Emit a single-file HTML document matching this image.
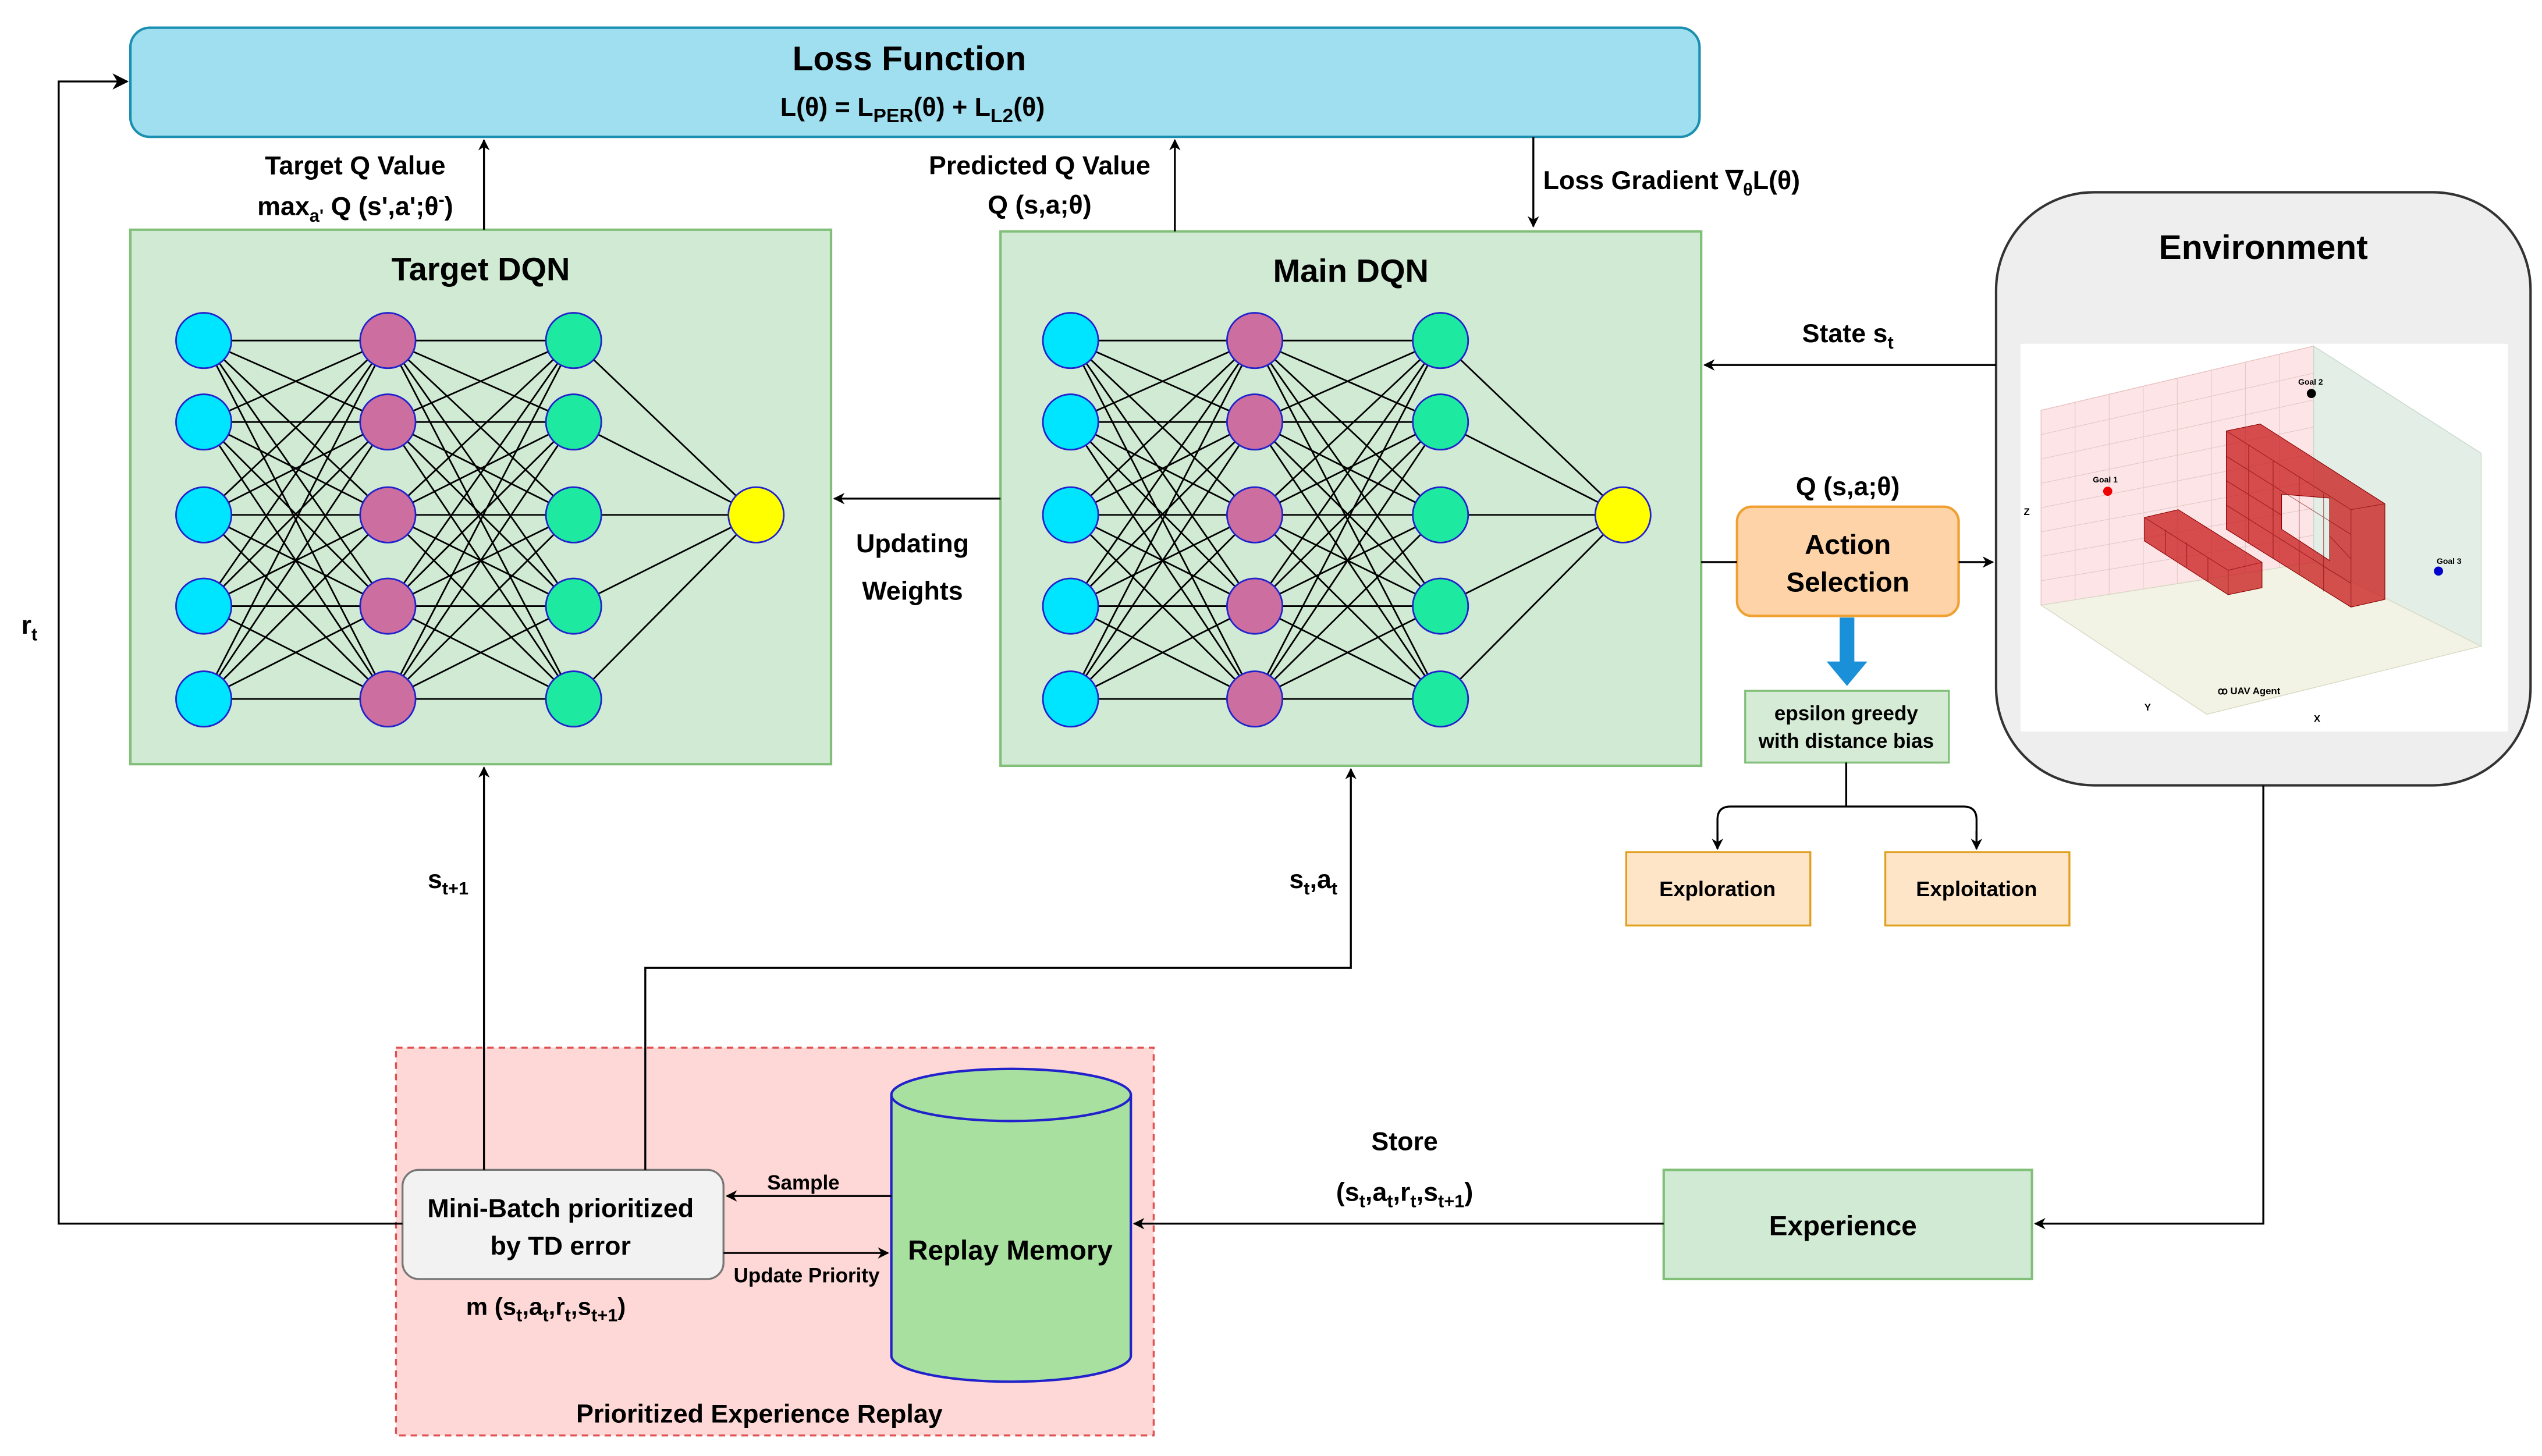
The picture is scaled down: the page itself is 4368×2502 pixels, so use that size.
<!DOCTYPE html>
<html><head><meta charset="utf-8"><style>
html,body{margin:0;padding:0;background:#fff}
svg{display:block}
text{font-family:"Liberation Sans",Arial,sans-serif;font-weight:bold;fill:#000}
</style></head><body>
<svg width="4368" height="2502" viewBox="0 0 1560 893.6" xmlns="http://www.w3.org/2000/svg">
<defs>
<marker id="a" viewBox="0 0 10 10" refX="9" refY="5" markerWidth="7" markerHeight="7" orient="auto-start-reverse" markerUnits="userSpaceOnUse"><path d="M0,0 L10,5 L0,10 L3,5 z" fill="#000"/></marker>
<marker id="b" viewBox="0 0 10 10" refX="9" refY="5" markerWidth="10" markerHeight="10" orient="auto" markerUnits="userSpaceOnUse"><path d="M0,0 L10,5 L0,10 L3,5 z" fill="#000"/></marker>
</defs>
<rect width="1560" height="894" fill="#fff"/>

<rect x="80" y="17" width="963" height="67" rx="12" fill="#a0dff0" stroke="#1a8fb0" stroke-width="1.5"/>
<text x="558" y="43" font-size="21" text-anchor="middle">Loss Function</text>
<text x="560" y="71" font-size="16" text-anchor="middle">L(θ) = L<tspan font-size="12" dy="4">PER</tspan><tspan dy="-4">(θ) + L</tspan><tspan font-size="12" dy="4">L2</tspan><tspan dy="-4">(θ)</tspan></text>

<rect x="80" y="141" width="430" height="328" fill="#d0ead4" stroke="#82c07a" stroke-width="1.5"/>
<text x="295" y="172" font-size="20" text-anchor="middle">Target DQN</text>
<rect x="614" y="142" width="430" height="328" fill="#d0ead4" stroke="#82c07a" stroke-width="1.5"/>
<text x="829" y="173" font-size="20" text-anchor="middle">Main DQN</text>

<g id="net" stroke="#000" stroke-width="1">
<path d="M125 209L238 209M125 209L238 259M125 209L238 316M125 209L238 372M125 209L238 429
M125 259L238 209M125 259L238 259M125 259L238 316M125 259L238 372M125 259L238 429
M125 316L238 209M125 316L238 259M125 316L238 316M125 316L238 372M125 316L238 429
M125 372L238 209M125 372L238 259M125 372L238 316M125 372L238 372M125 372L238 429
M125 429L238 209M125 429L238 259M125 429L238 316M125 429L238 372M125 429L238 429
M238 209L352 209M238 209L352 259M238 209L352 316M238 209L352 372M238 209L352 429
M238 259L352 209M238 259L352 259M238 259L352 316M238 259L352 372M238 259L352 429
M238 316L352 209M238 316L352 259M238 316L352 316M238 316L352 372M238 316L352 429
M238 372L352 209M238 372L352 259M238 372L352 316M238 372L352 372M238 372L352 429
M238 429L352 209M238 429L352 259M238 429L352 316M238 429L352 372M238 429L352 429
M352 209L464 316M352 259L464 316M352 316L464 316M352 372L464 316M352 429L464 316"/>
<g stroke="#2222cc" stroke-width="1">
<circle cx="125" cy="209" r="17" fill="#00e5ff"/><circle cx="125" cy="259" r="17" fill="#00e5ff"/><circle cx="125" cy="316" r="17" fill="#00e5ff"/><circle cx="125" cy="372" r="17" fill="#00e5ff"/><circle cx="125" cy="429" r="17" fill="#00e5ff"/>
<circle cx="238" cy="209" r="17" fill="#cc6fa0"/><circle cx="238" cy="259" r="17" fill="#cc6fa0"/><circle cx="238" cy="316" r="17" fill="#cc6fa0"/><circle cx="238" cy="372" r="17" fill="#cc6fa0"/><circle cx="238" cy="429" r="17" fill="#cc6fa0"/>
<circle cx="352" cy="209" r="17" fill="#1de9a0"/><circle cx="352" cy="259" r="17" fill="#1de9a0"/><circle cx="352" cy="316" r="17" fill="#1de9a0"/><circle cx="352" cy="372" r="17" fill="#1de9a0"/><circle cx="352" cy="429" r="17" fill="#1de9a0"/>
<circle cx="464" cy="316" r="17" fill="#ffff00"/>
</g>
</g>
<use href="#net" x="532" y="0"/>

<rect x="1225" y="118" width="328" height="364" rx="60" fill="#eeeeee" stroke="#333" stroke-width="1.5"/>
<text x="1389" y="159" font-size="21" text-anchor="middle">Environment</text>
<rect x="1240" y="211" width="299" height="238" fill="#fff"/>
<polygon points="1252.6,251.8 1419.9,212.4 1419.9,345.1 1252.6,371.4" fill="#fde4e6" stroke="#e8c0c0" stroke-width="0.5"/>
<polygon points="1419.9,212.4 1522.7,278.2 1522.7,396.6 1419.9,345.1" fill="#e2eee6" stroke="#c8d8cc" stroke-width="0.5"/>
<polygon points="1252.6,371.4 1419.9,345.1 1522.7,396.6 1354.3,438.4" fill="#f2f3e4" stroke="#d8d8c4" stroke-width="0.5"/>
<g stroke="#e5c8c8" stroke-width="0.4">
<path d="M1273.5,246.9V368.1M1294.4,242V364.8M1315.3,237V361.6M1336.2,232.1V358.3M1357.1,227.2V355M1378,222.3V351.7M1399,217.3V348.4"/>
<path d="M1252.6,356.4L1419.9,328.5M1252.6,341.4L1419.9,311.9M1252.6,326.4L1419.9,295.3M1252.6,311.6L1419.9,278.7M1252.6,296.6L1419.9,262.1M1252.6,281.7L1419.9,245.5M1252.6,266.7L1419.9,229"/>
</g>
<g fill="#c81818" fill-opacity="0.75" stroke="#8a0000" stroke-width="0.4">
<polygon points="1316,317.6 1336.8,312.8 1388.2,345.1 1388.2,360.7 1367.4,365 1316,332"/>
<path fill-rule="evenodd" d="M1366.3,264.5 L1387.1,260.2 L1463.6,309.2 L1463.6,367.9 L1442.8,372.6 L1366.3,324.8 Z M1400.2,303.3 L1429.7,305.7 L1429.7,344 L1400.2,324.8 Z"/>
</g>
<g stroke="#7a0000" stroke-width="0.4" fill="none" opacity="0.6">
<path d="M1316,317.6 L1367.4,350 L1388.2,345.1 M1367.4,350 V365 M1329,325 V340 M1342,333 V348 M1355,342 V357"/>
<path d="M1366.3,264.5 L1442.8,312.8 L1463.6,309.2 M1442.8,312.8 V372.6 M1380,273 V333 M1395,283 V343 M1411,293 V353 M1426,303 V363 M1366.3,280 L1442.8,328 M1366.3,295 L1400,316 M1429.7,329 L1442.8,343 M1366.3,310 L1442.8,358"/>
</g>
<circle cx="1293.5" cy="301.5" r="2.8" fill="#e00"/><text x="1292" y="296" font-size="5" text-anchor="middle">Goal 1</text>
<circle cx="1418.5" cy="241.5" r="2.8" fill="#000"/><text x="1418" y="236" font-size="5" text-anchor="middle">Goal 2</text>
<circle cx="1496.5" cy="350.5" r="2.8" fill="#00c"/><text x="1503" y="346" font-size="5" text-anchor="middle">Goal 3</text>
<text x="1361" y="426" font-size="6">ꝏ UAV Agent</text>
<text x="1316" y="436" font-size="6">Y</text><text x="1420" y="443" font-size="6">X</text><text x="1242" y="316" font-size="6">Z</text>

<text x="1134" y="304" font-size="16" text-anchor="middle">Q (s,a;θ)</text>
<rect x="1066" y="311" width="136" height="67" rx="9" fill="#fdd3a7" stroke="#f0a030" stroke-width="1.5"/>
<text x="1134" y="340" font-size="17" text-anchor="middle">Action</text>
<text x="1134" y="363" font-size="17" text-anchor="middle">Selection</text>
<rect x="1129" y="379" width="9" height="29" fill="#1a90d8"/>
<polygon points="1121,406 1146,406 1133.5,421" fill="#1a90d8"/>
<rect x="1071" y="424" width="125" height="44" fill="#d5ebd5" stroke="#82c07a" stroke-width="1.2"/>
<text x="1133" y="442" font-size="12.5" text-anchor="middle">epsilon greedy</text>
<text x="1133" y="459" font-size="12.5" text-anchor="middle">with distance bias</text>
<rect x="998" y="523" width="113" height="45" fill="#ffe5c8" stroke="#e0a020" stroke-width="1.2"/>
<text x="1054" y="550" font-size="13" text-anchor="middle">Exploration</text>
<rect x="1157" y="523" width="113" height="45" fill="#ffe5c8" stroke="#e0a020" stroke-width="1.2"/>
<text x="1213" y="550" font-size="13" text-anchor="middle">Exploitation</text>

<rect x="243" y="643" width="465" height="238" fill="#fdd8d6" stroke="#e05050" stroke-width="1.2" stroke-dasharray="4,3"/>
<text x="466" y="873" font-size="16" text-anchor="middle">Prioritized Experience Replay</text>
<rect x="247" y="718" width="197" height="67" rx="10" fill="#f2f2f2" stroke="#777" stroke-width="1.2"/>
<text x="344" y="747" font-size="16" text-anchor="middle">Mini-Batch prioritized</text>
<text x="344" y="770" font-size="16" text-anchor="middle">by TD error</text>
<text x="335" y="807" font-size="15" text-anchor="middle">m (s<tspan font-size="11" dy="4">t</tspan><tspan dy="-4">,a</tspan><tspan font-size="11" dy="4">t</tspan><tspan dy="-4">,r</tspan><tspan font-size="11" dy="4">t</tspan><tspan dy="-4">,s</tspan><tspan font-size="11" dy="4">t+1</tspan><tspan dy="-4">)</tspan></text>
<path d="M547,672 V832 A73.5,16 0 0 0 694,832 V672" fill="#a8e0a0" stroke="#2222cc" stroke-width="1.5"/>
<ellipse cx="620.5" cy="672" rx="73.5" ry="16" fill="#a8e0a0" stroke="#2222cc" stroke-width="1.5"/>
<text x="620" y="773" font-size="17" text-anchor="middle">Replay Memory</text>

<rect x="1021" y="718" width="226" height="67" fill="#d0ead4" stroke="#82c07a" stroke-width="1.5"/>
<text x="1131" y="758" font-size="17" text-anchor="middle">Experience</text>

<g stroke="#000" stroke-width="1.2" fill="none">
<path d="M247,751 H36 V50 H78" marker-end="url(#b)"/>
<path d="M297,718 V471" marker-end="url(#a)"/>
<path d="M396,718 V594 H829 V472" marker-end="url(#a)"/>
<path d="M297,141 V86" marker-end="url(#a)"/>
<path d="M721,142 V86" marker-end="url(#a)"/>
<path d="M941,84 V139" marker-end="url(#a)"/>
<path d="M1225,224 H1046" marker-end="url(#a)"/>
<path d="M614,306 H512" marker-end="url(#a)"/>
<path d="M1044,345 H1066"/>
<path d="M1202,345 H1223" marker-end="url(#a)"/>
<path d="M1133,468 V495 M1054,521 V503 Q1054,495 1062,495 H1205 Q1213,495 1213,503 V521"/>
<path d="M1054,510 V521" marker-end="url(#a)"/>
<path d="M1213,510 V521" marker-end="url(#a)"/>
<path d="M1389,482 V751 H1249" marker-end="url(#a)"/>
<path d="M1021,751 H696" marker-end="url(#a)"/>
<path d="M547,734 H446" marker-end="url(#a)"/>
<path d="M444,769 H545" marker-end="url(#a)"/>
</g>

<text x="18" y="389" font-size="16" text-anchor="middle">r<tspan font-size="11" dy="4">t</tspan></text>
<text x="275" y="545" font-size="16" text-anchor="middle">s<tspan font-size="11" dy="4">t+1</tspan></text>
<text x="806" y="545" font-size="16" text-anchor="middle">s<tspan font-size="11" dy="4">t</tspan><tspan dy="-4">,a</tspan><tspan font-size="11" dy="4">t</tspan></text>
<text x="218" y="107" font-size="16" text-anchor="middle">Target Q Value</text>
<text x="218" y="132" font-size="16" text-anchor="middle">max<tspan font-size="11" dy="4">a'</tspan><tspan dy="-4"> Q (s',a';θ</tspan><tspan font-size="11" dy="-6">-</tspan><tspan dy="6">)</tspan></text>
<text x="638" y="107" font-size="16" text-anchor="middle">Predicted Q Value</text>
<text x="638" y="131" font-size="16" text-anchor="middle">Q (s,a;θ)</text>
<text x="947" y="116" font-size="16">Loss Gradient ∇<tspan font-size="11" dy="4">θ</tspan><tspan dy="-4">L(θ)</tspan></text>
<text x="1134" y="210" font-size="16" text-anchor="middle">State s<tspan font-size="11" dy="4">t</tspan></text>
<text x="560" y="339" font-size="16" text-anchor="middle">Updating</text>
<text x="560" y="368" font-size="16" text-anchor="middle">Weights</text>
<text x="862" y="706" font-size="16" text-anchor="middle">Store</text>
<text x="862" y="737" font-size="16" text-anchor="middle">(s<tspan font-size="11" dy="4">t</tspan><tspan dy="-4">,a</tspan><tspan font-size="11" dy="4">t</tspan><tspan dy="-4">,r</tspan><tspan font-size="11" dy="4">t</tspan><tspan dy="-4">,s</tspan><tspan font-size="11" dy="4">t+1</tspan><tspan dy="-4">)</tspan></text>
<text x="493" y="730" font-size="12.5" text-anchor="middle">Sample</text>
<text x="495" y="787" font-size="12.5" text-anchor="middle">Update Priority</text>
</svg>
</body></html>
